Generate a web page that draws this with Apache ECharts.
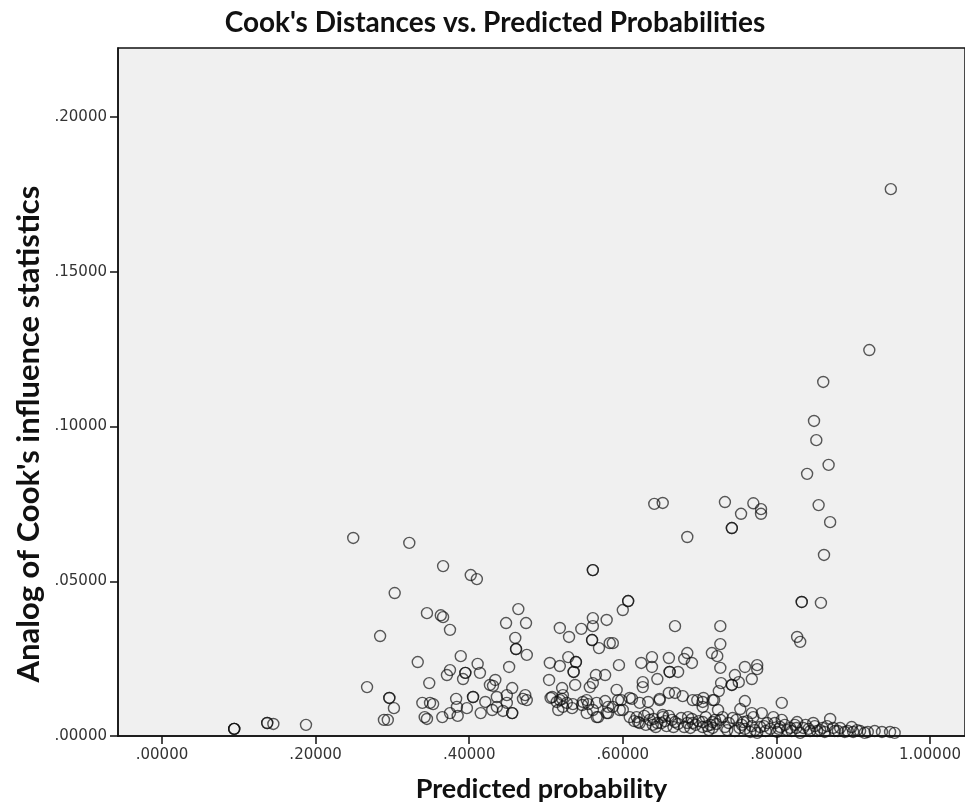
<!DOCTYPE html>
<html>
<head>
<meta charset="utf-8">
<script src="https://cdn.jsdelivr.net/npm/echarts@6/dist/echarts.min.js"></script>
<style>
html,body{margin:0;padding:0;background:#fff;}
#chart{width:965px;height:809px;}
</style>
</head>
<body>
<div id="chart"></div>
<script>
// Predicted probability (x) and Cook's analog (y)
const probLeft = [0.094,0.094,0.094,0.137,0.137,0.145,0.1875,0.249,0.267,0.284,0.289,0.294,0.296,0.296,0.302,0.303,0.322,0.333,0.345,0.348,0.339,0.353,0.349,0.342,0.345,0.366,0.402,0.410,0.363,0.366,0.375,0.389,0.375,0.371,0.395,0.395,0.392,0.411,0.414,0.434,0.431,0.427,0.464,0.448,0.474,0.460,0.461,0.461,0.475,0.452,0.456,0.405,0.405,0.383,0.384,0.421,0.436,0.449,0.449,0.473,0.475,0.470,0.365,0.375,0.385,0.397,0.415,0.430,0.436,0.444,0.456,0.456];
const cookLeft = [0.0023,0.0023,0.0023,0.0042,0.0042,0.0039,0.0036,0.0640,0.0158,0.0323,0.0052,0.0052,0.0123,0.0123,0.0090,0.0462,0.0624,0.0239,0.0397,0.0171,0.0107,0.0103,0.0107,0.0061,0.0055,0.0549,0.0520,0.0507,0.0390,0.0384,0.0343,0.0258,0.0213,0.0197,0.0204,0.0204,0.0184,0.0233,0.0204,0.0181,0.0162,0.0165,0.0410,0.0365,0.0365,0.0317,0.0281,0.0281,0.0262,0.0223,0.0155,0.0126,0.0126,0.0120,0.0094,0.0110,0.0126,0.0132,0.0107,0.0132,0.0116,0.0120,0.0061,0.0074,0.0065,0.0090,0.0074,0.0084,0.0094,0.0081,0.0074,0.0074];

const probMid = [0.504,0.521,0.538,0.557,0.561,0.565,0.577,0.592,0.626,0.626,0.645,0.506,0.514,0.521,0.527,0.535,0.548,0.555,0.566,0.577,0.581,0.598,0.612,0.622,0.633,0.648,0.660,0.668,0.678,0.691,0.704,0.717,0.516,0.534,0.553,0.566,0.581,0.596,0.609,0.620,0.635,0.652,0.668,0.684,0.704,0.717,0.561,0.561,0.607,0.607,0.600,0.684,0.641,0.652,0.668,0.518,0.530,0.546,0.561,0.561,0.579,0.560,0.560,0.569,0.583,0.587,0.505,0.518,0.529,0.539,0.539,0.536,0.536,0.595,0.624,0.638,0.638,0.660,0.661,0.661,0.672,0.684,0.680,0.690,0.522,0.508,0.518,0.522,0.547,0.553,0.561,0.568,0.579,0.587,0.594,0.600,0.609,0.618,0.622,0.633,0.639,0.648,0.652,0.664,0.685,0.691,0.697,0.704,0.720,0.724,0.630,0.645,0.657,0.672,0.680,0.695,0.710,0.655,0.690,0.640];
const cookMid = [0.0181,0.0155,0.0165,0.0158,0.0171,0.0197,0.0197,0.0149,0.0174,0.0158,0.0184,0.0123,0.0110,0.0120,0.0107,0.0103,0.0110,0.0103,0.0107,0.0113,0.0094,0.0116,0.0120,0.0107,0.0110,0.0120,0.0139,0.0139,0.0129,0.0116,0.0110,0.0116,0.0084,0.0090,0.0074,0.0061,0.0074,0.0084,0.0061,0.0045,0.0052,0.0061,0.0045,0.0042,0.0029,0.0045,0.0536,0.0536,0.0436,0.0436,0.0407,0.0643,0.0750,0.0753,0.0355,0.0349,0.0320,0.0346,0.0381,0.0355,0.0375,0.0310,0.0310,0.0284,0.0300,0.0300,0.0236,0.0226,0.0255,0.0239,0.0239,0.0207,0.0207,0.0229,0.0236,0.0255,0.0223,0.0252,0.0207,0.0207,0.0207,0.0268,0.0249,0.0236,0.0132,0.0126,0.0116,0.0094,0.0100,0.0116,0.0084,0.0061,0.0074,0.0094,0.0116,0.0084,0.0123,0.0061,0.0042,0.0074,0.0036,0.0116,0.0068,0.0052,0.0061,0.0042,0.0116,0.0094,0.0052,0.0084,0.0036,0.0042,0.0032,0.0039,0.0029,0.0036,0.0032,0.0048,0.0055,0.0055];

const probRight = [0.949,0.921,0.861,0.849,0.852,0.868,0.840,0.733,0.770,0.754,0.780,0.780,0.742,0.742,0.855,0.870,0.862,0.833,0.833,0.858,0.827,0.831,0.727,0.727,0.716,0.723,0.727,0.759,0.775,0.775,0.768,0.746,0.742,0.742,0.751,0.728,0.725,0.719,0.705,0.759,0.753,0.807,0.768,0.781,0.870,0.898,0.704,0.717,0.727,0.736,0.743,0.755,0.757,0.766,0.770,0.788,0.796,0.807,0.814,0.827,0.835,0.848,0.857,0.874,0.883,0.905,0.779,0.792,0.805,0.818,0.831,0.844,0.863,0.850,0.824,0.801,0.775,0.759,0.746,0.733,0.714,0.876,0.889,0.909,0.919,0.928,0.9375,0.948,0.954];
const cookRight = [0.1767,0.1247,0.1144,0.1018,0.0956,0.0876,0.0847,0.0756,0.0752,0.0718,0.0733,0.0718,0.0672,0.0672,0.0746,0.0691,0.0585,0.0433,0.0433,0.0430,0.0320,0.0304,0.0355,0.0297,0.0268,0.0258,0.0220,0.0223,0.0229,0.0216,0.0184,0.0197,0.0165,0.0165,0.0174,0.0171,0.0145,0.0116,0.0123,0.0113,0.0087,0.0107,0.0074,0.0074,0.0055,0.0029,0.0045,0.0026,0.0052,0.0019,0.0058,0.0036,0.0045,0.0013,0.0061,0.0042,0.0061,0.0052,0.0019,0.0045,0.0026,0.0042,0.0019,0.0026,0.0026,0.0019,0.0029,0.0023,0.0029,0.0026,0.0010,0.0016,0.0013,0.0032,0.0036,0.0013,0.0010,0.0023,0.0016,0.0029,0.0036,0.0016,0.0013,0.0016,0.0013,0.0016,0.0013,0.0013,0.0010];

// dense bottom band (overlapping circles near zero)
const probBand = [0.615,0.628,0.643,0.650,0.660,0.666,0.676,0.688,0.699,0.708,0.712,0.722,0.730,0.738,0.748,0.752,0.762,0.768,0.772,0.784,0.786,0.798,0.803,0.811,0.820,0.826,0.838,0.842,0.853,0.860,0.866,0.880,0.893,0.900,0.915];
const cookBand = [0.0048,0.0065,0.0029,0.0042,0.0065,0.0029,0.0058,0.0026,0.0048,0.0061,0.0019,0.0039,0.0061,0.0042,0.0052,0.0026,0.0048,0.0032,0.0019,0.0032,0.0016,0.0042,0.0023,0.0036,0.0016,0.0026,0.0036,0.0023,0.0016,0.0026,0.0032,0.0016,0.0016,0.0013,0.0010];

const xTicks = [0, 0.2, 0.4, 0.6, 0.8, 1.0];
const yTicks = [0, 0.05, 0.10, 0.15, 0.20];

const probs = probLeft.concat(probMid, probRight, probBand);
const cooks = cookLeft.concat(cookMid, cookRight, cookBand);
const points = probs.map((p, i) => [p, cooks[i]]);

const fmt = v => v.toFixed(5).replace(/^0/, '');
const labelFont = {fontFamily: 'Lato', fontWeight: 'bold', color: '#111'};

const chart = echarts.init(document.getElementById('chart'), null, {renderer: 'canvas'});
chart.setOption({
  animation: false,
  backgroundColor: '#ffffff',
  title: {
    text: "Cook's Distances vs. Predicted Probabilities",
    left: 490, top: 4, textAlign: 'center',
    textStyle: Object.assign({fontSize: 28}, labelFont)
  },
  graphic: [{
    type: 'text',
    x: 29, y: 434, rotation: Math.PI / 2,
    style: {
      text: "Analog of Cook's influence statistics",
      fontSize: 31, fontFamily: 'Lato', fontWeight: 'bold',
      textAlign: 'center', textVerticalAlign: 'middle', fill: '#111'
    }
  }],
  grid: {
    left: 118, right: 0, top: 48, bottom: 73,
    show: true, backgroundColor: '#f0f0f0', borderColor: '#111', borderWidth: 1.5
  },
  xAxis: {
    type: 'value', min: -0.0573, max: 1.0456,
    name: 'Predicted probability', nameLocation: 'middle', nameGap: 40,
    nameTextStyle: Object.assign({fontSize: 27}, labelFont),
    axisLine: {show: true, onZero: false, lineStyle: {color: '#111', width: 1.5}},
    axisTick: {show: true, length: 8, customValues: xTicks, lineStyle: {color: '#111', width: 1.5}},
    axisLabel: {customValues: xTicks, formatter: fmt, margin: 12, fontFamily: 'DejaVu Sans', fontSize: 15, color: '#333'},
    splitLine: {show: false}
  },
  yAxis: {
    type: 'value', min: 0, max: 0.2223,
    axisLine: {show: true, onZero: false, lineStyle: {color: '#111', width: 1.5}},
    axisTick: {show: true, length: 8, customValues: yTicks, lineStyle: {color: '#111', width: 1.5}},
    axisLabel: {customValues: yTicks, formatter: fmt, margin: 11, fontFamily: 'DejaVu Sans', fontSize: 15, color: '#333'},
    splitLine: {show: false}
  },
  series: [{
    type: 'scatter',
    data: points,
    symbol: 'circle',
    symbolSize: 11,
    itemStyle: {color: 'rgba(0,0,0,0)', borderColor: 'rgba(15,15,15,0.85)', borderWidth: 1.4},
    emphasis: {disabled: true}
  }]
});
</script>
</body>
</html>
